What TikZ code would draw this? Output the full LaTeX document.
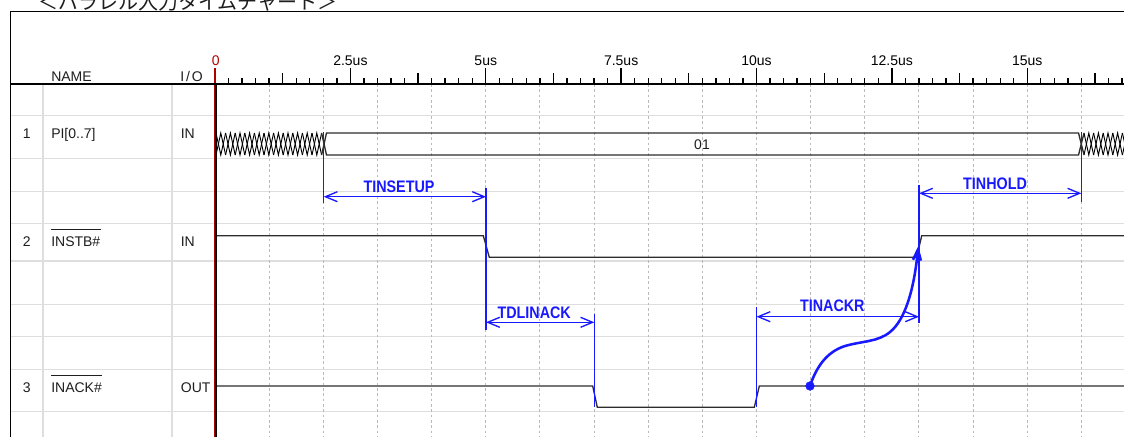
\documentclass[tikz,border=0pt]{standalone}
\usepackage{fontspec}
\setmainfont{Liberation Sans}
\newfontfamily\cjk{Noto Sans CJK JP}
\usetikzlibrary{arrows.meta}
\definecolor{annblue}{RGB}{25,25,255}
\definecolor{gridgray}{RGB}{185,185,185}
\definecolor{tabgray}{RGB}{222,222,222}
\definecolor{sigdark}{RGB}{45,45,45}
\definecolor{markred}{RGB}{175,0,0}
\definecolor{txt}{RGB}{30,30,30}
\begin{document}
\begin{tikzpicture}[x=0.75pt,y=-0.75pt,
  lbl/.style={inner sep=0pt, anchor=base west, text=txt, font=\fontsize{10.5}{12}\selectfont},
  tlbl/.style={inner sep=0pt, anchor=base, text=black, font=\fontsize{10.5}{12}\selectfont},
  ann/.style={inner sep=0pt, anchor=base, text=annblue, font=\fontsize{12.5}{14}\selectfont\bfseries},
  annline/.style={annblue, line width=1pt},
  dimarrow/.style={annblue, line width=1pt, {Straight Barb[length=9pt,width=7.5pt]}-{Straight Barb[length=9pt,width=7.5pt]}},
  sig/.style={sigdark, line width=1pt, line join=miter},
  hatch/.style={black, line width=0.7pt},
  gridln/.style={gridgray, line width=0.75pt, dash pattern=on 2pt off 2pt},
  tab/.style={tabgray, line width=0.9pt},
  frame/.style={black, line width=1pt},
  overl/.style={txt, line width=0.75pt},
]
\useasboundingbox (0,0) rectangle (1124,437);
\fill[white] (0,0) rectangle (1124,437);

% title (partly cut off by the page edge)
\node[inner sep=0pt, anchor=base west, text=txt, font=\cjk\fontsize{15}{18}\selectfont] (title) at (38,9) {＜パラレル入力タイムチャート＞};

% table lines
\draw[tab] (43,84) -- (43,437);
\draw[tab] (172,84) -- (172,437);
\foreach \yy in {115.7,158.4,191.3,223.3,261,304.3,336.7,369.3,411.7}
  \draw[tab] (10.7,\yy) -- (1124,\yy);

% dotted time grid
\foreach \t in {1,...,16}
  \draw[gridln] (215+54.15*\t,84) -- (215+54.15*\t,437);

% time axis ticks
\foreach \k in {1,...,67} {
  \pgfmathsetmacro\xx{215+\k*13.5375}
  \pgfmathtruncatemacro\ma{mod(\k,10)}
  \pgfmathtruncatemacro\mb{mod(\k,5)}
  \ifnum\ma=0 \def\hh{68.3}\else\ifnum\mb=0 \def\hh{73.3}\else\def\hh{77.5}\fi\fi
  \draw[black, line width=1pt] (\xx,84) -- (\xx,\hh);
}
\node[tlbl, text=markred] (tk0) at (215.8,65.7) {0};
\node[tlbl] (tka) at (215+54.15*2.5,65.7) {2.5us};
\node[tlbl] (tkb) at (215+54.15*5,65.7) {5us};
\node[tlbl] (tkc) at (215+54.15*7.5,65.7) {7.5us};
\node[tlbl] (tkd) at (215+54.15*10,65.7) {10us};
\node[tlbl] (tke) at (215+54.15*12.5,65.7) {12.5us};
\node[tlbl] (tkf) at (215+54.15*15,65.7) {15us};

% header texts
\node[lbl] (hname) at (51,81.7) {NAME};
\node[lbl] (hio) at (180,81.7) {I\kern1.4pt/\kern1.4pt O};

% row labels
\node[lbl] (r1n) at (22.5,138.9) {1};
\node[lbl] (r1s) at (51,138.9) {PI[0..7]};
\node[lbl] (r1d) at (180.5,138.9) {IN};
\node[lbl] (r2n) at (22.5,246.7) {2};
\node[lbl] (r2s) at (51,246.7) {INSTB\#};
\node[lbl] (r2d) at (180.5,246.7) {IN};
\node[lbl] (r3n) at (22.5,392.7) {3};
\node[lbl] (r3s) at (51,392.7) {INACK\#};
\node[lbl] (r3d) at (180.7,392.7) {OUT};
\draw[overl] ([yshift=5.3pt]r2s.north west) -- ([yshift=5.3pt]r2s.north east);
\draw[overl] ([yshift=5.3pt]r3s.north west) -- ([yshift=5.3pt]r3s.north east);

% signal 1: bus
\foreach \i in {0,...,10} {
  \draw[hatch] (216+\i*9.6,133) -- (220.8+\i*9.6,155) -- (225.6+\i*9.6,133);
  \draw[hatch] (216+\i*9.6,155) -- (220.8+\i*9.6,133) -- (225.6+\i*9.6,155);
}
\foreach \i in {0,...,4} {
  \draw[hatch] (1084+\i*9.6,133) -- (1088.8+\i*9.6,155) -- (1093.6+\i*9.6,133);
  \draw[hatch] (1084+\i*9.6,155) -- (1088.8+\i*9.6,133) -- (1093.6+\i*9.6,155);
}
\draw[sig] (321.6,133) -- (326.5,155) -- (1078.5,155) -- (1084,133);
\draw[sig] (321.6,155) -- (326.5,133) -- (1078.5,133) -- (1084,155);
\node[lbl, anchor=base] (bus) at (702,149.2) {01};

% signal 2
\draw[sig] (216,235.7) -- (483.3,235.7) -- (489.3,257.3) -- (916.7,257.3) -- (921.7,235.7) -- (1124,235.7);
% signal 3
\draw[sig] (216,386) -- (592.7,386) -- (597.3,407.3) -- (754.3,407.3) -- (759.3,386) -- (1124,386);

% zero marker line
\draw[markred, line width=1.6pt] (215,68) -- (215,84);
\draw[markred, line width=0.9pt] (214.2,84) -- (214.2,437);
\draw[black, line width=1.1pt] (215.8,84) -- (215.8,437);

% frame
\draw[frame] (10.7,437) -- (10.7,11.3) -- (1124,11.3);
\draw[frame] (10.7,84) -- (1124,84);

% annotation extension lines
\coordinate (a1t) at (323.7,132);   \coordinate (a1b) at (323.7,203.3);
\coordinate (a2t) at (486,188.3);   \coordinate (a2b) at (486,330);
\coordinate (a3t) at (594.3,314.3); \coordinate (a3b) at (594.3,407.3);
\coordinate (a4t) at (756.5,307.3); \coordinate (a4b) at (756.5,407.3);
\coordinate (a5t) at (919,185);     \coordinate (a5b) at (919,323);
\coordinate (a6t) at (1081.3,132);  \coordinate (a6b) at (1081.3,202.3);
\foreach \n in {1,...,6} \draw[annline] (a\n t) -- (a\n b);

% dimension arrows
\coordinate (s1) at (323.7,196.7); \coordinate (s2) at (486,196.7);
\coordinate (d1) at (486,322.3);   \coordinate (d2) at (594.3,322.3);
\coordinate (k1) at (756.5,316.7); \coordinate (k2) at (919,316.7);
\coordinate (h1) at (919,193.3);   \coordinate (h2) at (1081.3,193.3);
\draw[dimarrow] (s1) -- (s2);
\draw[dimarrow] (d1) -- (d2);
\draw[dimarrow] (k1) -- (k2);
\draw[dimarrow] (h1) -- (h2);
\node[ann] (lsetup) at (399,192) {\scalebox{0.86}[1]{TINSETUP}};
\node[ann] (ldl) at (534.2,318.3) {\scalebox{0.86}[1]{TDLINACK}};
\node[ann] (lackr) at (832.3,311) {\scalebox{0.86}[1]{TINACKR}};
\node[ann] (lhold) at (995,189.3) {\scalebox{0.86}[1]{TINHOLD}};

% causal curve
\node[circle, fill=annblue, draw=annblue, inner sep=0pt, minimum size=6.5pt] (dot) at (810,386) {};
\coordinate (tip) at (918.3,246);
\draw[annblue, line width=1.9pt, -{Straight Barb[length=8pt,width=6pt]}]
  (dot.center) .. controls (816,368) and (826,352) .. (845,346)
  .. controls (862,341) and (878,342) .. (890,332)
  .. controls (905,320) and (914,290) .. (tip);
\end{tikzpicture}
\end{document}
